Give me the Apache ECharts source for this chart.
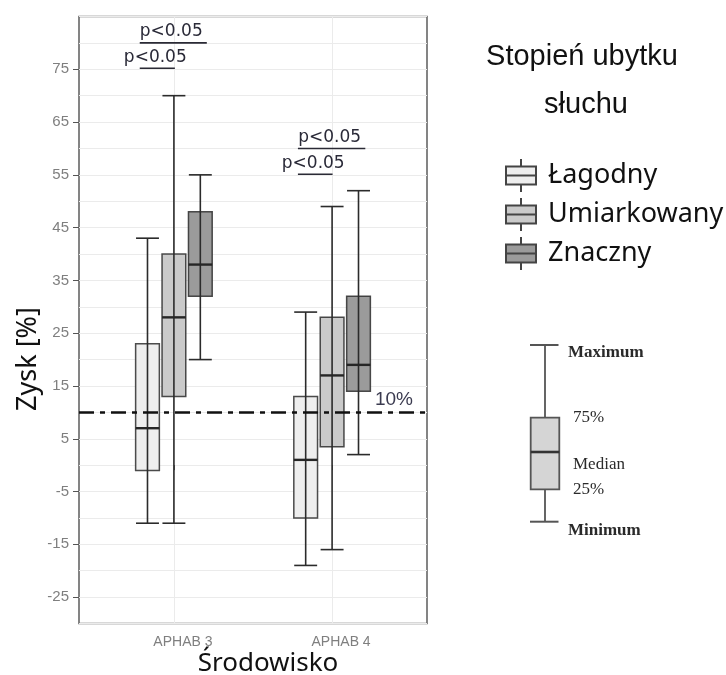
<!DOCTYPE html>
<html><head><meta charset="utf-8">
<script src="https://cdn.jsdelivr.net/npm/echarts@6/dist/echarts.min.js"></script>
<style>html,body{margin:0;padding:0;background:#fff}#c{width:726px;height:675px}</style>
</head><body><div id="c"></div>
<script>
// ---- data ----
const categories = ['APHAB 3', 'APHAB 4'];
const groupNames = ['Łagodny', 'Umiarkowany', 'Znaczny'];
// [min, q1, median, q3, max] per category
const lagodny = [[-11, -1, 7, 23, 43], [-19, -10, 1, 13, 29]];
const umiarkowany = [[-11, 13, 28, 40, 70], [-16, 3.5, 17, 28, 49]];
const znaczny = [[20, 32, 38, 48, 55], [2, 14, 19, 32, 52]];
const yTicks = [-25, -15, -5, 5, 15, 25, 35, 45, 55, 65, 75];
const refValue = 10;
const refLabel = '10%';
const sigStart = [0.784, 0.784, 1.784, 1.784];
const sigEnd = [1.006, 1.208, 2.003, 2.21];
const sigY = [75.2, 80, 55.1, 60];
const sigText = ['p<0.05', 'p<0.05', 'p<0.05', 'p<0.05'];
const legendTitle = ['Stopień ubytku', 'słuchu'];
const xTitle = 'Środowisko';
const yTitle = 'Zysk [%]';
const keyLabels = ['Maximum', '75%', 'Median', '25%', 'Minimum'];

// ---- styles ----
const fills = ['#eeeeee', '#cacaca', '#9b9b9b'];
const dodge = [-0.167, 0, 0.167];
const boxW = 0.15;
const capW = 0.145;

function boxSeries(name, values, idx) {
  return {
    type: 'custom', name: name,
    itemStyle: { color: fills[idx], borderColor: '#444', borderWidth: 2 },
    data: values.map((v, i) => [i + 1].concat(v)),
    encode: { x: 0, y: [1, 2, 3, 4, 5] },
    z: 3,
    renderItem: function (params, api) {
      const x = api.value(0) + dodge[idx];
      const pMin = api.coord([x, api.value(1)]);
      const pQ1 = api.coord([x, api.value(2)]);
      const pMed = api.coord([x, api.value(3)]);
      const pQ3 = api.coord([x, api.value(4)]);
      const pMax = api.coord([x, api.value(5)]);
      const half = api.size([boxW, 0])[0] / 2;
      const cap = api.size([capW, 0])[0] / 2;
      const st = { stroke: '#2b2b2b', lineWidth: 1.6 };
      return {
        type: 'group',
        children: [
          { type: 'rect', shape: { x: pQ3[0] - half, y: pQ3[1], width: 2 * half, height: pQ1[1] - pQ3[1] },
            style: { fill: fills[idx], stroke: 'rgba(45,45,45,0.85)', lineWidth: 1.5 } },
          { type: 'line', shape: { x1: pMin[0], y1: pMin[1], x2: pMax[0], y2: pMax[1] }, style: st },
          { type: 'line', shape: { x1: pMax[0] - cap, y1: pMax[1], x2: pMax[0] + cap, y2: pMax[1] }, style: st },
          { type: 'line', shape: { x1: pMin[0] - cap, y1: pMin[1], x2: pMin[0] + cap, y2: pMin[1] }, style: st },
          { type: 'line', shape: { x1: pMed[0] - half, y1: pMed[1], x2: pMed[0] + half, y2: pMed[1] },
            style: { stroke: '#262626', lineWidth: 2.4 } }
        ]
      };
    }
  };
}

const sigSeries = {
  type: 'custom', name: 'sig', z: 4,
  data: sigStart.map((s, i) => [s, sigEnd[i], sigY[i]]),
  encode: { x: [0, 1], y: 2 },
  renderItem: function (params, api) {
    const p1 = api.coord([api.value(0), api.value(2)]);
    const p2 = api.coord([api.value(1), api.value(2)]);
    return {
      type: 'group',
      children: [
        { type: 'line', shape: { x1: p1[0], y1: p1[1], x2: p2[0], y2: p2[1] },
          style: { stroke: '#2a2a35', lineWidth: 1.6 } },
        { type: 'text', x: (p1[0] + p2[0]) / 2 - 2, y: p1[1] - 11,
          style: { text: sigText[params.dataIndex], fontSize: 17, fontFamily: 'DejaVu Sans',
                   fill: '#2a2a38', align: 'center', verticalAlign: 'middle' } }
      ]
    };
  },
  markLine: {
    silent: true, symbol: 'none', z: 5,
    data: [{ yAxis: refValue }],
    lineStyle: { color: '#111', width: 2.5, type: [15, 6, 5, 6] },
    label: { show: true, position: 'insideEndTop', formatter: refLabel, color: '#3b3b50',
             fontSize: 19, fontFamily: 'Liberation Sans', distance: [14, 3] }
  }
};

const boxIcon = 'path://M0,7.5L30,7.5L30,25.5L0,25.5Z M15,0L15,7.5 M15,25.5L15,33 M0,16.5L30,16.5';

const txt = (t, x, y, o) => ({ type: 'text', x: x, y: y, style: Object.assign({ text: t, fill: '#111',
  align: 'center', verticalAlign: 'middle' }, o) });
const ln = (x1, y1, x2, y2, c, w) => ({ type: 'line', shape: { x1, y1, x2, y2 }, style: { stroke: c, lineWidth: w } });
const serif = { fontFamily: 'Liberation Serif', fontSize: 17, fill: '#2a2a2a', align: 'left' };

const option = {
  backgroundColor: '#ffffff',
  animation: false,
  grid: { left: 79, top: 16.5, width: 348, height: 607, show: true, borderColor: '#666', borderWidth: 1.6,
          containLabel: false, outerBoundsMode: 'none' },
  xAxis: {
    type: 'value', min: 0.4, max: 2.6,
    axisLine: { show: false },
    axisTick: { show: true, customValues: [1, 2], length: 5, lineStyle: { color: '#555' } },
    axisLabel: { customValues: [1, 2], formatter: v => categories[Math.round(v) - 1], color: '#7f7f7f',
                 fontSize: 14, fontFamily: 'Liberation Sans', margin: 12, padding: [0, 0, 0, 18] },
    splitLine: { show: true, lineStyle: { color: '#ebebeb', width: 1 } }
  },
  yAxis: [
    { type: 'value', min: -30, max: 85, interval: 5,
      axisLine: { show: false }, axisTick: { show: false }, axisLabel: { show: false },
      splitLine: { show: true, lineStyle: { color: '#ebebeb', width: 1 } } },
    { type: 'value', min: -30, max: 85, interval: 5, position: 'left',
      axisLine: { show: false },
      axisTick: { show: true, customValues: yTicks, length: 6, lineStyle: { color: '#555' } },
      axisLabel: { customValues: yTicks, color: '#7f7f7f', fontSize: 15, fontFamily: 'Liberation Sans', margin: 10 },
      splitLine: { show: false } }
  ],
  legend: {
    orient: 'vertical', left: 505, top: 158, itemWidth: 44, itemHeight: 33, itemGap: 4,
    symbolKeepAspect: true, icon: boxIcon, selectedMode: false, padding: 0,
    textStyle: { fontSize: 27, fontFamily: 'Noto Sans', color: '#111' },
    data: groupNames.map((n, i) => ({ name: n, icon: boxIcon,
      itemStyle: { color: fills[i], borderColor: '#444', borderWidth: 2 } }))
  },
  series: [
    boxSeries(groupNames[0], lagodny, 0),
    boxSeries(groupNames[1], umiarkowany, 1),
    boxSeries(groupNames[2], znaczny, 2),
    sigSeries
  ],
  graphic: [
    txt(yTitle, 28, 359, { fontSize: 27, fontFamily: 'Noto Sans' }),
    txt(xTitle, 268, 664, { fontSize: 26, fontFamily: 'Noto Sans' }),
    txt(legendTitle[0], 582, 57, { fontSize: 29, fontFamily: 'Liberation Sans' }),
    txt(legendTitle[1], 586, 105, { fontSize: 29, fontFamily: 'Liberation Sans' }),
    ln(530, 345, 558.5, 345, '#555', 2),
    ln(545, 345, 545, 417.7, '#555', 1.8),
    { type: 'rect', shape: { x: 530.7, y: 417.7, width: 28.6, height: 71.6 },
      style: { fill: '#d5d5d5', stroke: '#555', lineWidth: 1.8 } },
    ln(530.7, 452, 559.3, 452, '#333', 2.6),
    ln(545, 489.3, 545, 521.7, '#555', 1.8),
    ln(530, 521.7, 558.5, 521.7, '#555', 2),
    txt(keyLabels[0], 568, 353, Object.assign({}, serif, { fontWeight: 'bold' })),
    txt(keyLabels[1], 573, 418, serif),
    txt(keyLabels[2], 573, 465, serif),
    txt(keyLabels[3], 573, 490, serif),
    txt(keyLabels[4], 568, 531, Object.assign({}, serif, { fontWeight: 'bold' }))
  ]
};
// rotate y title
option.graphic[0].rotation = Math.PI / 2;

const chart = echarts.init(document.getElementById('c'), null, { renderer: 'canvas' });
chart.setOption(option);
</script>
</body></html>
